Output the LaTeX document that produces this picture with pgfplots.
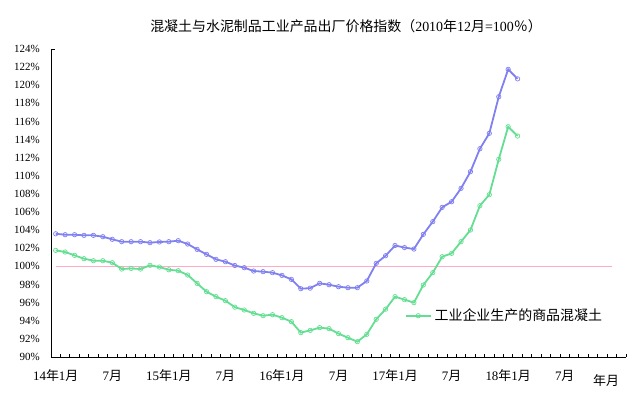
\documentclass[border=0pt]{standalone}
\usepackage{fontspec}
\setmainfont{Liberation Serif}
\newfontfamily\cjk{Noto Sans CJK SC}
\usepackage{pgfplots}
\usepackage{pgfplotstable}
\pgfplotsset{compat=1.18}
\definecolor{cblue}{RGB}{128,128,240}
\definecolor{cgreen}{RGB}{100,222,146}
\definecolor{cpink}{RGB}{255,170,200}
\pgfplotstableread{
k blue green
1 103.60 101.77
2 103.50 101.59
3 103.50 101.22
4 103.43 100.85
5 103.43 100.63
6 103.28 100.63
7 102.99 100.41
8 102.73 99.71
9 102.73 99.78
10 102.73 99.71
11 102.62 100.12
12 102.70 99.93
13 102.73 99.63
14 102.84 99.53
15 102.47 99.05
16 101.88 98.13
17 101.33 97.21
18 100.78 96.66
19 100.52 96.22
20 100.10 95.50
21 99.86 95.19
22 99.49 94.82
23 99.42 94.56
24 99.31 94.67
25 99.01 94.34
26 98.57 93.90
27 97.54 92.69
28 97.60 92.94
29 98.13 93.24
30 97.98 93.13
31 97.76 92.58
32 97.65 92.13
33 97.65 91.69
34 98.39 92.50
35 100.34 94.16
36 101.18 95.28
37 102.31 96.66
38 102.08 96.33
39 101.92 96.00
40 103.54 97.95
41 104.94 99.31
42 106.52 101.07
43 107.14 101.44
44 108.62 102.73
45 110.46 104.02
46 112.99 106.70
47 114.69 107.92
48 118.73 111.82
49 121.75 115.42
50 120.70 114.39
}\data
\begin{document}
\begin{tikzpicture}
\path[use as bounding box] (0,0) rectangle (628bp,395bp);
\begin{axis}[
  at={(51bp,38bp)}, anchor=south west, scale only axis,
  width=575bp, height=308bp,
  xmin=0.5, xmax=61.5, ymin=90, ymax=124,
  axis x line=bottom, axis y line=left,
  axis line style={-, line width=0.8bp, black},
  xtick={1,7,...,55},
  xticklabels={14{\cjk 年}1{\cjk 月}, 7{\cjk 月}, 15{\cjk 年}1{\cjk 月}, 7{\cjk 月}, 16{\cjk 年}1{\cjk 月}, 7{\cjk 月}, 17{\cjk 年}1{\cjk 月}, 7{\cjk 月}, 18{\cjk 年}1{\cjk 月}, 7{\cjk 月}},
  minor xtick={0.5,1.5,...,61.5},
  ytick={90,92,...,124},
  major tick length=0pt,
  minor tick length=3bp,
  tick align=inside,
  tick style={black, line width=0.8bp},
  extra y ticks={124},
  extra y tick labels={},
  extra y tick style={major tick length=4bp, tick align=inside},
  /pgf/number format/assume math mode=true,
  yticklabel={\pgfmathprintnumber{\tick}\%},
  yticklabel style={font=\fontsize{11}{11}\selectfont, anchor=east, inner sep=0pt, xshift=-11bp},
  xticklabel style={font=\fontsize{13}{13}\selectfont, anchor=center, inner sep=0pt, yshift=-19bp},
  legend style={at={(0.615,0.134)}, anchor=west, draw=none, fill=none, inner sep=0pt,
    font=\fontsize{14}{14}\selectfont\cjk, nodes={inner xsep=3bp}},
  legend cell align=left,
  legend image code/.code={\draw[#1, mark repeat=2, mark phase=2] plot coordinates {(0bp,0bp) (12.5bp,0bp) (25bp,0bp)};},
  clip=false,
]
\addplot[cpink, line width=0.8bp, forget plot] coordinates {(1,100) (60,100)};
\addplot[cblue, line width=1.8bp, mark=o, mark size=2.2bp, mark options={fill=white, line width=0.7bp}, forget plot] table[x=k, y=blue] {\data};
\addplot[cgreen, line width=1.8bp, mark=o, mark size=2.2bp, mark options={fill=white, line width=0.7bp}] table[x=k, y=green] {\data};
\addlegendentry{工业企业生产的商品混凝土}
\end{axis}
\node[font=\fontsize{14}{14}\selectfont] at (346bp,369bp) {{\cjk 混凝土与水泥制品工业产品出厂价格指数（}2010{\cjk 年}12{\cjk 月}=100{\cjk ％）}};
\node[font=\fontsize{13}{13}\selectfont] at (606bp,14bp) {{\cjk 年月}};
\end{tikzpicture}
\end{document}
